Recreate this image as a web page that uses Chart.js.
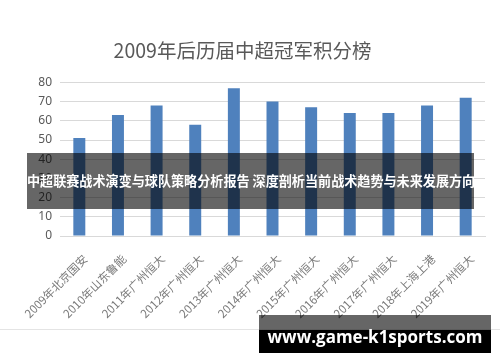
<!DOCTYPE html>
<html>
<head>
<meta charset="utf-8">
<script src="https://cdn.jsdelivr.net/npm/chart.js@4.4.1/dist/chart.umd.min.js"></script>
<style>
  html, body { margin: 0; padding: 0; background: #fff; }
  #wrap { position: relative; width: 500px; height: 362px; overflow: hidden; }
  #edge { position: absolute; left: 0; top: 329px; width: 500px; height: 1px; background: #e4e4e4; }
  #banner {
    position: absolute; left: 27px; top: 153px; width: 447px; height: 56px;
    background: rgba(0, 0, 0, 0.6); color: #fff;
    font: bold 13.1px "Noto Sans CJK SC", sans-serif;
    line-height: 56px; text-align: center; white-space: nowrap;
  }
  #site {
    position: absolute; left: 259px; top: 315px; width: 232px; height: 38px;
    background: linear-gradient(to bottom, rgba(0,0,0,0.6) 0, rgba(0,0,0,0.6) 15px, #000 15px);
    color: #fff; font: bold 17px "Open Sans", sans-serif;
    line-height: 44px; text-align: center; white-space: nowrap;
  }
</style>
</head>
<body>
<div id="wrap">
  <canvas id="pointsChart" width="500" height="362"></canvas>
  <div id="edge"></div>
  <div id="banner">中超联赛战术演变与球队策略分析报告 深度剖析当前战术趋势与未来发展方向</div>
  <div id="site">www.game-k1sports.com</div>
</div>
<script>
const seasons = ['2009年北京国安', '2010年山东鲁能', '2011年广州恒大', '2012年广州恒大', '2013年广州恒大',
    '2014年广州恒大', '2015年广州恒大', '2016年广州恒大', '2017年广州恒大', '2018年上海上港', '2019年广州恒大'];
const points = [51, 63, 68, 58, 77, 70, 67, 64, 64, 68, 72];
const yTicks = [0, 10, 20, 30, 40, 50, 60, 70, 80];

document.addEventListener('DOMContentLoaded', function() {
    initPointsChart();
});

function initPointsChart() {
    const ctx = document.getElementById('pointsChart').getContext('2d');

    new Chart(ctx, {
        type: 'bar',
        data: {
            labels: seasons,
            datasets: [{
                label: '积分',
                data: points,
                backgroundColor: '#4f81bd',
                barPercentage: 0.62,
                categoryPercentage: 0.5
            }]
        },
        options: {
            responsive: false,
            animation: false,
            layout: { padding: { left: 0, right: 15, top: 0, bottom: 0 } },
            plugins: {
                legend: { display: false },
                tooltip: { enabled: false },
                title: {
                    display: true,
                    text: '2009年后历届中超冠军积分榜',
                    color: '#595959',
                    font: { family: '"Noto Sans CJK SC"', size: 19.5, weight: 'normal' },
                    padding: { top: 39, bottom: 20 }
                }
            },
            scales: {
                y: {
                    min: 0,
                    max: 80,
                    afterFit: function(scale) { scale.width = 60; },
                    afterBuildTicks: function(scale) {
                        scale.ticks = yTicks.map(v => ({ value: v }));
                    },
                    border: { display: false },
                    grid: { color: '#d9d9d9', drawTicks: false },
                    ticks: {
                        color: '#595959',
                        padding: 8,
                        font: { family: '"Noto Sans"', size: 12 }
                    }
                },
                x: {
                    afterFit: function(scale) { scale.height = 126; },
                    border: { color: '#d9d9d9' },
                    grid: { display: false },
                    ticks: {
                        color: '#7a7a7a',
                        maxRotation: 45,
                        minRotation: 45,
                        autoSkip: false,
                        padding: 8,
                        labelOffset: 6,
                        font: { family: '"Noto Sans CJK SC"', size: 11.5 }
                    }
                }
            }
        }
    });
}
</script>
</body>
</html>
